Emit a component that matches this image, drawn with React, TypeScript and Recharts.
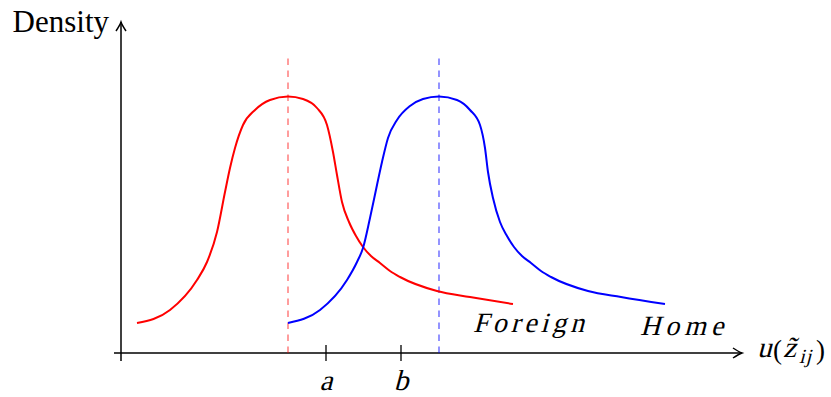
import React from "react";
import { ComposedChart, Line, XAxis, YAxis, ReferenceLine, ReferenceDot } from "recharts";

// curve samples (x along u(z), y = density, arbitrary units)
const foreignX = [0.16, 0.49, 0.76, 0.86, 0.96, 1.04, 1.09, 1.14, 1.22, 1.34, 1.49, 1.67, 1.82, 1.96, 2.06, 2.12, 2.16, 2.21, 2.28, 2.35, 2.42, 2.5, 2.59, 2.69, 2.79, 3.16, 3.49, 3.92];
const foreignY = [0.3, 0.43, 0.73, 0.91, 1.21, 1.61, 1.85, 2.05, 2.28, 2.43, 2.53, 2.565, 2.54, 2.45, 2.28, 2.01, 1.78, 1.51, 1.31, 1.17, 1.06, 0.97, 0.9, 0.82, 0.76, 0.62, 0.56, 0.49];

const homeX = [1.67, 1.99, 2.26, 2.36, 2.42, 2.49, 2.56, 2.61, 2.67, 2.76, 2.89, 3.02, 3.18, 3.36, 3.49, 3.59, 3.64, 3.67, 3.72, 3.79, 3.86, 3.93, 4.01, 4.1, 4.2, 4.3, 4.67, 5.0, 5.44];
const homeY = [0.3, 0.43, 0.73, 0.91, 1.05, 1.35, 1.68, 1.91, 2.15, 2.33, 2.47, 2.54, 2.565, 2.53, 2.43, 2.28, 2.05, 1.81, 1.55, 1.31, 1.17, 1.06, 0.97, 0.9, 0.82, 0.76, 0.62, 0.56, 0.49];

// peaks (dashed markers)
const foreignPeak = 1.67;
const homePeak = 3.18;
const markerTop = 2.95;

// x-axis ticks
const tickValues = [2.05, 2.8];
const tickNames = ["a", "b"];

// series labels: [x, y, text]
const seriesLabels: [number, number, string][] = [
  [3.52, 0.21, "Foreign"],
  [5.19, 0.18, "Home"],
];

const X_MIN = 0;
const X_MAX = 6.21;
const Y_MAX = 3.31;

const foreignData = foreignX.map((x, i) => ({ x, y: foreignY[i] }));
const homeData = homeX.map((x, i) => ({ x, y: homeY[i] }));

const SERIF = "Liberation Serif";

// italic faces are not reliable here, so lean the upright serif
const Ital = ({ x, y, size, anchor = "start", spacing = 0, children }: any) => (
  <text
    transform={`translate(${x},${y}) skewX(-15)`}
    x={0}
    y={0}
    textAnchor={anchor}
    fontFamily={SERIF}
    fontSize={size}
    letterSpacing={spacing}
    fill="#000"
  >
    {children}
  </text>
);

const XAxisShape = (props: any) => {
  const { x1, y1, x2 } = props;
  const base = y1 + 4;
  return (
    <g>
      <line x1={x1} y1={y1} x2={x2} y2={y1} stroke="#000" strokeWidth={1.5} />
      <path
        d={`M ${x2 - 9} ${y1 - 5} Q ${x2 - 3} ${y1 - 1} ${x2} ${y1} Q ${x2 - 3} ${y1 + 1} ${x2 - 9} ${y1 + 5}`}
        fill="none"
        stroke="#000"
        strokeWidth={1.5}
      />
      <Ital x={x2 + 15} y={base} size={29}>u</Ital>
      <text x={x2 + 31} y={base + 2} fontFamily={SERIF} fontSize={27} fill="#000">(</text>
      <Ital x={x2 + 41} y={base} size={29}>z̃</Ital>
      <Ital x={x2 + 57} y={base + 6} size={20} spacing={1}>ij</Ital>
      <text x={x2 + 74} y={base + 2} fontFamily={SERIF} fontSize={27} fill="#000">)</text>
    </g>
  );
};

const YAxisShape = (props: any) => {
  const { x1, y1, y2 } = props;
  const top = Math.min(y1, y2);
  return (
    <g>
      <line x1={x1} y1={y1} x2={x1} y2={y2} stroke="#000" strokeWidth={1.5} />
      <path
        d={`M ${x1 - 5} ${top + 9} Q ${x1 - 1} ${top + 3} ${x1} ${top} Q ${x1 + 1} ${top + 3} ${x1 + 5} ${top + 9}`}
        fill="none"
        stroke="#000"
        strokeWidth={1.5}
      />
      <text x={x1 - 12} y={top + 10} textAnchor="end" fontFamily={SERIF} fontSize={31} fill="#000">
        Density
      </text>
    </g>
  );
};

const AxisTick = (props: any) => {
  const { x, y, index } = props;
  return (
    <g>
      <line x1={x} x2={x} y1={y - 8} y2={y + 8} stroke="#000" strokeWidth={1.3} />
      <Ital x={x} y={y + 37} size={29} anchor="middle">
        {tickNames[index]}
      </Ital>
    </g>
  );
};

const makeLabelShape = (text: string) => (props: any) => (
  <Ital x={props.cx} y={props.cy} size={28} spacing={text === "Home" ? 4.9 : 4.0}>
    {text}
  </Ital>
);

export default function App() {
  return (
    <div style={{ position: "absolute", left: 0, top: 0, width: 831, height: 397, background: "#fff" }}>
      <ComposedChart width={831} height={397} margin={{ top: 22, right: 89, bottom: 4, left: 121 }}>
        <XAxis
          type="number"
          dataKey="x"
          domain={[X_MIN, X_MAX]}
          ticks={tickValues}
          height={40}
          axisLine={false}
          tickLine={false}
          tickSize={0}
          tickMargin={0}
          interval={0}
          tick={(p: any) => <AxisTick {...p} />}
          allowDataOverflow
        />
        <YAxis type="number" dataKey="y" domain={[0, Y_MAX]} hide allowDataOverflow />

        <ReferenceLine
          segment={[{ x: -0.07, y: 0 }, { x: X_MAX, y: 0 }]}
          ifOverflow="visible"
          shape={XAxisShape}
        />
        <ReferenceLine
          segment={[{ x: 0, y: -0.08 }, { x: 0, y: Y_MAX }]}
          ifOverflow="visible"
          shape={YAxisShape}
        />

        <ReferenceLine
          segment={[{ x: foreignPeak, y: 0 }, { x: foreignPeak, y: markerTop }]}
          stroke="#ff0000"
          strokeOpacity={0.55}
          strokeWidth={1.4}
          strokeDasharray="6.5 5.5"
          ifOverflow="visible"
        />
        <ReferenceLine
          segment={[{ x: homePeak, y: 0 }, { x: homePeak, y: markerTop }]}
          stroke="#0000ff"
          strokeOpacity={0.6}
          strokeWidth={1.4}
          strokeDasharray="6.5 5.5"
          ifOverflow="visible"
        />

        <Line
          data={foreignData}
          dataKey="y"
          type="monotone"
          stroke="#ff0000"
          strokeWidth={2}
          dot={false}
          activeDot={false}
          isAnimationActive={false}
        />
        <Line
          data={homeData}
          dataKey="y"
          type="monotone"
          stroke="#0000ff"
          strokeWidth={2}
          dot={false}
          activeDot={false}
          isAnimationActive={false}
        />

        {seriesLabels.map(([x, y, text]) => (
          <ReferenceDot key={text} x={x} y={y} r={0} ifOverflow="visible" shape={makeLabelShape(text)} />
        ))}
      </ComposedChart>
    </div>
  );
}
